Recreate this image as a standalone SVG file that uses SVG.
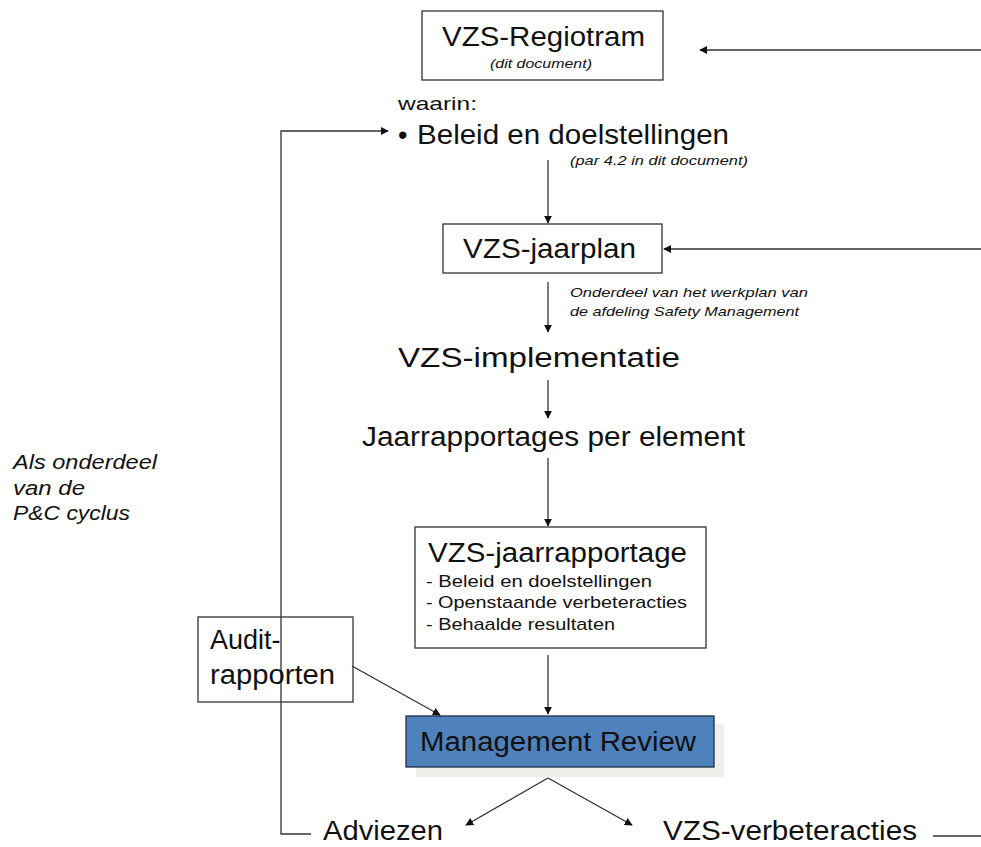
<svg xmlns="http://www.w3.org/2000/svg" width="981" height="847" viewBox="0 0 981 847">
  <style>
    text { font-family: "Liberation Sans", Arial, sans-serif; fill: #111; }
    .big { font-size: 27px; }
    .mid { font-size: 17px; }
    .note { font-size: 13px; font-style: italic; }
    .side { font-size: 20px; font-style: italic; }
    .box { fill: #fff; stroke: #333; stroke-width: 1.3; }
    .frame { fill: none; stroke: #333; stroke-width: 1.3; }
    .wire { fill: none; stroke: #333; stroke-width: 1.3; }
  </style>
  <defs>
    <marker id="arrow" viewBox="0 0 10 10" refX="9" refY="5" markerWidth="8" markerHeight="8" markerUnits="userSpaceOnUse" orient="auto">
      <path d="M0,0 L10,5 L0,10 Z" fill="#111"/>
    </marker>
  </defs>
  <rect width="981" height="847" fill="#fff"/>

  <!-- connectors -->
  <g id="connectors" class="wire">
    <path d="M981,50 H700" marker-end="url(#arrow)"/>
    <path d="M981,249 H664" marker-end="url(#arrow)"/>
    <path d="M548,160 V223" marker-end="url(#arrow)"/>
    <path d="M548,282 V332" marker-end="url(#arrow)"/>
    <path d="M548,380 V418" marker-end="url(#arrow)"/>
    <path d="M548,458 V526" marker-end="url(#arrow)"/>
    <path d="M548,655 V714" marker-end="url(#arrow)"/>
    <path d="M352,666 L440,715" marker-end="url(#arrow)"/>
    <path d="M548,778 L466,825" marker-end="url(#arrow)"/>
    <path d="M548,778 L632,825" marker-end="url(#arrow)"/>
    <path d="M311,834 H281 V131 H388" marker-end="url(#arrow)"/>
    <path d="M933,836 H981"/>
  </g>

  <!-- nodes -->
  <g id="regiotram">
    <rect class="box" x="422" y="11" width="241" height="69"/>
    <text class="big" x="442" y="46" textLength="203" lengthAdjust="spacingAndGlyphs">VZS-Regiotram</text>
    <text class="note" x="490" y="68" textLength="102" lengthAdjust="spacingAndGlyphs">(dit document)</text>
  </g>

  <g id="beleid">
    <text x="398" y="110" style="font-size:19px" textLength="79" lengthAdjust="spacingAndGlyphs">waarin:</text>
    <text class="big" x="398" y="144">•</text>
    <text class="big" x="417" y="144" textLength="312" lengthAdjust="spacingAndGlyphs">Beleid en doelstellingen</text>
    <text class="note" x="570" y="165" textLength="178" lengthAdjust="spacingAndGlyphs">(par 4.2 in dit document)</text>
  </g>

  <g id="jaarplan">
    <rect class="box" x="443" y="224" width="219" height="49"/>
    <text class="big" x="463" y="258" textLength="173" lengthAdjust="spacingAndGlyphs">VZS-jaarplan</text>
    <text class="note" x="570" y="297" textLength="238" lengthAdjust="spacingAndGlyphs">Onderdeel van het werkplan van</text>
    <text class="note" x="570" y="316" textLength="229" lengthAdjust="spacingAndGlyphs">de afdeling Safety Management</text>
  </g>

  <g id="implementatie">
    <text class="big" x="398" y="367" textLength="282" lengthAdjust="spacingAndGlyphs">VZS-implementatie</text>
  </g>

  <g id="jaarrapportages">
    <text class="big" x="362" y="446" textLength="383" lengthAdjust="spacingAndGlyphs">Jaarrapportages per element</text>
  </g>

  <g id="jaarrapportage">
    <rect class="box" x="415" y="527" width="291" height="121"/>
    <text class="big" x="428" y="562" textLength="259" lengthAdjust="spacingAndGlyphs">VZS-jaarrapportage</text>
    <text class="mid" x="426" y="587" textLength="226" lengthAdjust="spacingAndGlyphs">- Beleid en doelstellingen</text>
    <text class="mid" x="426" y="608" textLength="261" lengthAdjust="spacingAndGlyphs">- Openstaande verbeteracties</text>
    <text class="mid" x="426" y="630" textLength="189" lengthAdjust="spacingAndGlyphs">- Behaalde resultaten</text>
  </g>

  <!-- the feedback line stays visible through this frame -->
  <g id="audit">
    <rect class="frame" x="198" y="617" width="155" height="85"/>
    <text class="big" x="210" y="649">Audit-</text>
    <text class="big" x="210" y="684" textLength="125" lengthAdjust="spacingAndGlyphs">rapporten</text>
  </g>

  <g id="management-review">
    <rect x="416" y="724" width="308" height="53" fill="#F0EFEA"/>
    <rect x="406" y="716" width="308" height="51" fill="#4F81BD" stroke="#1F2D44" stroke-width="1.3"/>
    <text class="big" x="420" y="751" textLength="276" lengthAdjust="spacingAndGlyphs">Management Review</text>
  </g>

  <g id="adviezen">
    <text class="big" x="323" y="840" textLength="120" lengthAdjust="spacingAndGlyphs">Adviezen</text>
  </g>

  <g id="verbeteracties">
    <text class="big" x="663" y="840" textLength="254" lengthAdjust="spacingAndGlyphs">VZS-verbeteracties</text>
  </g>

  <g id="pc-cyclus">
    <text class="side" x="13" y="469" textLength="144" lengthAdjust="spacingAndGlyphs">Als onderdeel</text>
    <text class="side" x="13" y="495" textLength="72" lengthAdjust="spacingAndGlyphs">van de</text>
    <text class="side" x="13" y="520" textLength="117" lengthAdjust="spacingAndGlyphs">P&amp;C cyclus</text>
  </g>
</svg>
